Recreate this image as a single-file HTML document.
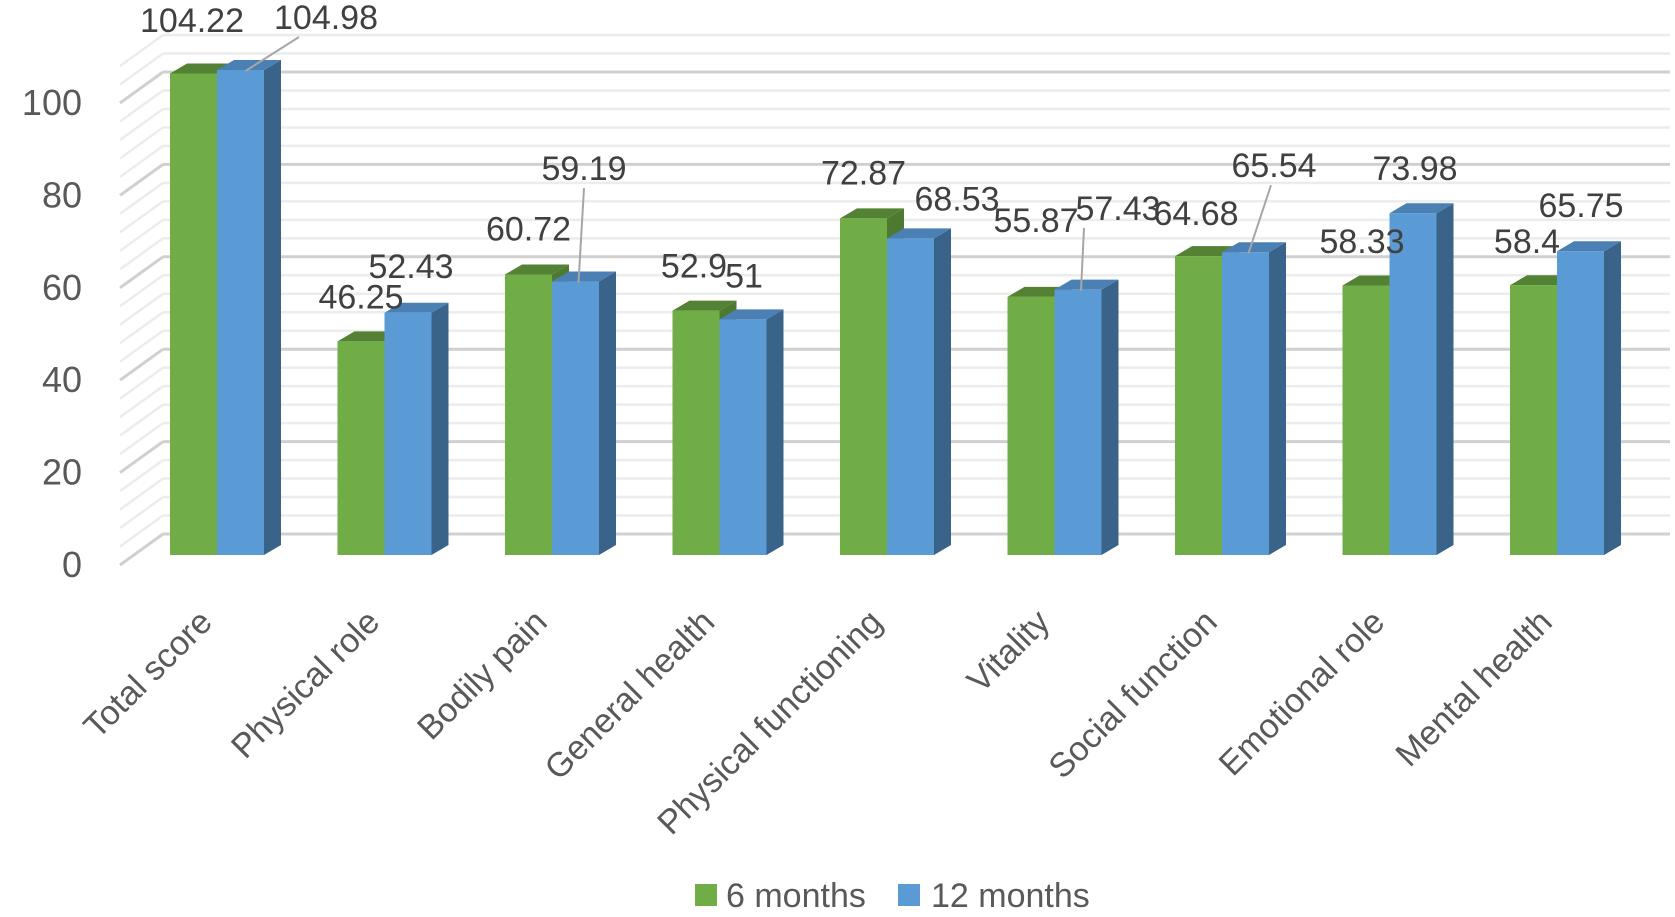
<!DOCTYPE html>
<html><head><meta charset="utf-8"><style>
html,body{margin:0;padding:0;background:#fff;}
svg{display:block;font-family:"Liberation Sans",sans-serif;}
</style></head><body>
<svg id="chart" width="1675" height="917" viewBox="0 0 1675 917" xmlns="http://www.w3.org/2000/svg">
<g id="grid"></g>
<g id="yaxis"></g>
<g id="bars"></g>
<g id="labels"></g>
<g id="xaxis"></g>
<g>
  <rect x="695" y="884" width="22" height="22" fill="#70ad47"/>
  <text x="726" y="907" font-size="34" fill="#595959">6 months</text>
  <rect x="898" y="884" width="22" height="22" fill="#5b9bd5"/>
  <text x="931" y="907" font-size="34" fill="#595959">12 months</text>
</g>
</svg>
<script>
const categories = ["Total score","Physical role","Bodily pain","General health","Physical functioning","Vitality","Social function","Emotional role","Mental health"];
const months6 = [104.22,46.25,60.72,52.9,72.87,55.87,64.68,58.33,58.4];
const months12 = [104.98,52.43,59.19,51,68.53,57.43,65.54,73.98,65.75];
const yTicks = [0,20,40,60,80,100];
// label placement offsets (dx, dy relative to default spot above bar front)
const lab6Off = [[-1.5,-27.5],[0,-19],[0,-20],[-2,-19],[0,-20],[5,-51],[-2.5,-17],[-4,-18.5],[-6.5,-18]];
const lab12Off = [[85.5,-27],[3,-21],[8.5,-87.5],[1,-18],[46.5,-14],[40,-55.7],[28.5,-61],[2,-19],[0.5,-20]];
// leader line start x offset relative to label centre (null = no leader)
const leaderDx = [-27,null,0,null,null,-34,-3,null,null];

const NS="http://www.w3.org/2000/svg";
const frontZero=555, backZero=534, k=4.62, x0=170, step=167.5, bw=47, dx=17, dy=10;
const yFront=v=>frontZero-v*k;
const yBack=v=>backZero-v*k;
const gx=i=>x0+i*step;
function mk(tag,attrs,parent){const e=document.createElementNS(NS,tag);for(const a in attrs)e.setAttribute(a,attrs[a]);parent.appendChild(e);return e;}

const grid=document.getElementById('grid');
for(let v=0;v<=108;v+=4){
  const major=v%20===0;
  const y=yBack(v);
  const col=major?'#d0d0d0':'#ececec', w=major?3:2.5;
  const l1=mk('line',{x1:163,y1:y,x2:1670,y2:y,stroke:col,'stroke-width':w},grid);
  
  
  const l2=mk('line',{x1:120,y1:y+31,x2:163,y2:y,stroke:col,'stroke-width':w},grid);
  
  
}
const yaxis=document.getElementById('yaxis');
yTicks.forEach(v=>{
  const t=mk('text',{x:82,y:yBack(v)+31+12,'text-anchor':'end','font-size':36,fill:'#595959'},yaxis);
  t.textContent=v;
  
  
});

const bars=document.getElementById('bars'), labels=document.getElementById('labels'), xaxis=document.getElementById('xaxis');
function bar(x,v,front,top,side,name){
  const g=mk('g',{},bars);
  
  
  const yt=yFront(v), yb=frontZero;
  mk('polygon',{points:`${x+bw},${yt} ${x+bw+dx},${yt-dy} ${x+bw+dx},${yb-dy} ${x+bw},${yb}`,fill:side},g);
  mk('polygon',{points:`${x},${yt} ${x+dx},${yt-dy} ${x+bw+dx},${yt-dy} ${x+bw},${yt}`,fill:top},g);
  mk('rect',{x:x,y:yt,width:bw,height:yb-yt,fill:front},g);
}
categories.forEach((c,i)=>{
  const x=gx(i);
  bar(x,months6[i],'#70ad47','#548235','#4d7a30','bar-6-months');
  bar(x+bw,months12[i],'#5b9bd5','#4a80b4','#3a6389','bar-12-months');
  const gcx=x+bw/2, bcx=x+bw*1.5;
  const t1=mk('text',{x:gcx+lab6Off[i][0],y:yFront(months6[i])-14+lab6Off[i][1],'text-anchor':'middle','font-size':34,fill:'#404040'},labels);
  t1.textContent=months6[i];
  
  
  const l2x=bcx+lab12Off[i][0], l2y=yFront(months12[i])-14+lab12Off[i][1];
  if(leaderDx[i]!==null){
    const ln=mk('line',{x1:l2x+leaderDx[i],y1:l2y+8,x2:bcx+(i===0?5:3),y2:yFront(months12[i])+1,stroke:'#a6a6a6','stroke-width':2},labels);
    
    
  }
  const t2=mk('text',{x:l2x,y:l2y,'text-anchor':'middle','font-size':34,fill:'#404040'},labels);
  t2.textContent=months12[i];
  
  
  const cx=x+bw-3, cy=624;
  const tc=mk('text',{x:cx,y:cy,'text-anchor':'end','font-size':34,fill:'#595959',transform:`rotate(-45 ${cx} ${cy})`},xaxis);
  tc.textContent=c;
  
  
});
</script>
</body></html>
